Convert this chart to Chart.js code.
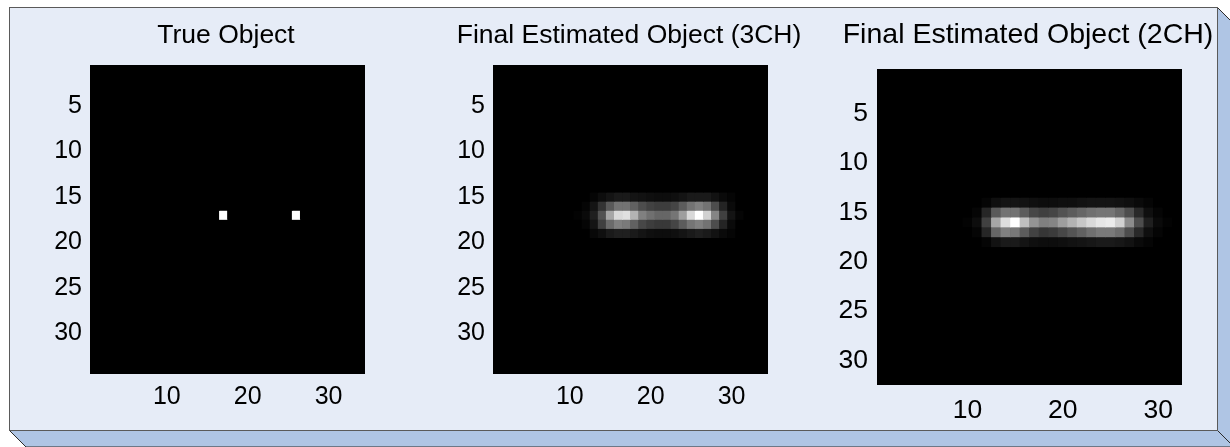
<!DOCTYPE html>
<html><head><meta charset="utf-8">
<script src="https://cdn.jsdelivr.net/npm/chart.js@4.4.1/dist/chart.umd.min.js"></script>
<style>
html,body{margin:0;padding:0;background:#fff;}
#wrap{position:relative;width:1230px;height:447px;overflow:hidden;}
#bg{position:absolute;left:0;top:0;}
canvas{position:absolute;top:0;}
</style></head><body>
<div id="wrap">
<svg id="bg" width="1230" height="447">
<polygon points="9.5,430.5 1217.5,430.5 1234,447 26,447" fill="#afc5e4" stroke="#2b2b2b" stroke-width="1"/>
<polygon points="1217.5,7.5 1234,24 1234,447 1217.5,430.5" fill="#afc5e4" stroke="#2b2b2b" stroke-width="1"/>
<rect x="9.5" y="7.5" width="1208" height="423" fill="#e6ecf7" stroke="#5a5a5a" stroke-width="1"/>
</svg>
<canvas id="ch1" width="432" height="447" style="left:10px"></canvas>
<canvas id="ch2" width="400" height="447" style="left:429px"></canvas>
<canvas id="ch3" width="400" height="447" style="left:828px"></canvas>
</div>
<script>
// ---- tick labels & titles ----
const xTickLabels = [10, 20, 30];
const yTickLabels = [5, 10, 15, 20, 25, 30];
const titles = ['True Object', 'Final Estimated Object (3CH)', 'Final Estimated Object (2CH)'];

// ---- image sizes (rows = columns) ----
const sizeTrue = 34, size3ch = 34, size2ch = 32;

// ---- True object: non-zero row 17 ----
const true_r17 = [0,0,0,0,0,0,0,0,0,0,0,0,0,0,0,0,1,0,0,0,0,0,0,0,0,1,0,0,0,0,0,0,0,0];

// ---- Final estimate (3CH): non-zero rows 15..19 (34 columns) ----
const est3_r15 = [0,0,0,0,0,0,0,0,0,0,0,0,.02,.05,.08,.10,.10,.08,.07,.06,.05,.05,.06,.08,.10,.10,.10,.07,.04,.02,0,0,0,0];
const est3_r16 = [0,0,0,0,0,0,0,0,0,0,0,.02,.08,.20,.35,.45,.45,.38,.30,.26,.24,.24,.27,.36,.45,.50,.45,.30,.14,.04,0,0,0,0];
const est3_r17 = [0,0,0,0,0,0,0,0,0,0,.01,.04,.12,.32,.65,.85,.88,.70,.50,.44,.40,.40,.46,.62,.85,1.0,.82,.52,.25,.08,.02,0,0,0];
const est3_r18 = [0,0,0,0,0,0,0,0,0,0,0,.02,.08,.25,.42,.50,.48,.38,.28,.24,.22,.22,.27,.36,.46,.50,.45,.30,.14,.04,0,0,0,0];
const est3_r19 = [0,0,0,0,0,0,0,0,0,0,0,0,.03,.06,.10,.12,.12,.10,.08,.06,.05,.05,.06,.08,.10,.12,.10,.07,.04,.02,0,0,0,0];

// ---- Final estimate (2CH): non-zero rows 14..18 (32 columns) ----
const est2_r14 = [0,0,0,0,0,0,0,0,0,0,0,.02,.06,.08,.08,.07,.06,.05,.05,.06,.06,.07,.08,.08,.08,.07,.06,.04,.02,0,0,0];
const est2_r15 = [0,0,0,0,0,0,0,0,0,0,.02,.15,.35,.45,.45,.36,.28,.25,.27,.32,.36,.40,.44,.46,.46,.40,.30,.16,.06,.02,0,0];
const est2_r16 = [0,0,0,0,0,0,0,0,0,.01,.05,.25,.65,.87,1.0,.75,.58,.50,.52,.62,.70,.78,.85,.90,.92,.82,.55,.30,.12,.04,.01,0];
const est2_r17 = [0,0,0,0,0,0,0,0,0,0,.02,.15,.40,.50,.47,.36,.26,.21,.23,.28,.33,.38,.44,.48,.48,.43,.30,.16,.06,.02,0,0];
const est2_r18 = [0,0,0,0,0,0,0,0,0,0,0,.02,.07,.10,.10,.08,.06,.05,.05,.06,.07,.08,.09,.10,.10,.09,.07,.04,.02,0,0,0];

function buildImage(size, band) {
  const img = [];
  for (let r = 1; r <= size; r++) img.push(band[r] || new Array(size).fill(0));
  return img;
}
const imgTrue = buildImage(sizeTrue, {17: true_r17});
const img3ch = buildImage(size3ch, {15: est3_r15, 16: est3_r16, 17: est3_r17, 18: est3_r18, 19: est3_r19});
const img2ch = buildImage(size2ch, {14: est2_r14, 15: est2_r15, 16: est2_r16, 17: est2_r17, 18: est2_r18});

function gray(v) { const g = Math.round(Math.max(0, Math.min(1, v)) * 255); return 'rgb(' + g + ',' + g + ',' + g + ')'; }

const blackArea = {
  id: 'blackArea',
  beforeDatasetsDraw(chart) {
    const a = chart.chartArea, ctx = chart.ctx;
    ctx.save(); ctx.fillStyle = '#000'; ctx.fillRect(a.left, a.top, a.right - a.left, a.bottom - a.top); ctx.restore();
  }
};

const FONT = '"Liberation Sans", Arial, sans-serif';

function makeChart(id, title, img, geo) {
  const size = img.length;
  const labels = Array.from({length: size}, (_, i) => String(i + 1));
  const datasets = img.map((row, i) => {
    const r = i + 1;
    return {
      data: row.map(() => [r - 0.5, r + 0.5]),
      backgroundColor: row.map(gray),
      borderWidth: 0,
      barPercentage: 1,
      categoryPercentage: 1,
      grouped: false
    };
  });
  return new Chart(document.getElementById(id), {
    type: 'bar',
    data: { labels, datasets },
    options: {
      responsive: false,
      animation: false,
      events: [],
      layout: { padding: 0 },
      plugins: {
        legend: { display: false },
        tooltip: { enabled: false },
        title: {
          display: true, text: title, color: '#000', fullSize: true,
          font: { family: FONT, size: geo.titleSize, weight: 'normal', lineHeight: 1.2 },
          padding: { top: geo.titleTop, bottom: geo.titleBottom }
        }
      },
      scales: {
        x: {
          type: 'category', offset: true,
          grid: { display: false, drawTicks: false }, border: { display: false },
          ticks: {
            autoSkip: false, maxRotation: 0, minRotation: 0, color: '#000', padding: geo.xPad,
            font: { family: FONT, size: geo.tickSize },
            callback: function (v) { const lab = this.getLabelForValue(v); return xTickLabels.includes(Number(lab)) ? lab : ''; }
          },
          afterFit(s) { s.height = geo.xHeight; }
        },
        y: {
          type: 'linear', reverse: true, min: 0.5, max: size + 0.5,
          grid: { display: false, drawTicks: false }, border: { display: false },
          ticks: { color: '#000', padding: geo.yPad, font: { family: FONT, size: geo.tickSize } },
          afterBuildTicks(s) { s.ticks = yTickLabels.map(v => ({ value: v })); },
          afterFit(s) { s.width = geo.yWidth; }
        },
        yRight: {
          type: 'linear', position: 'right', min: 0, max: 1,
          grid: { display: false, drawTicks: false }, border: { display: false },
          ticks: { display: false },
          afterFit(s) { s.width = geo.rightWidth; }
        }
      }
    },
    plugins: [blackArea]
  });
}

makeChart('ch1', titles[0], imgTrue, { yWidth: 80, xHeight: 73, rightWidth: 77, titleSize: 26.5, titleTop: 19.3, titleBottom: 13.9, tickSize: 25, xPad: 8, yPad: 8 });
makeChart('ch2', titles[1], img3ch, { yWidth: 64, xHeight: 73, rightWidth: 61, titleSize: 26.5, titleTop: 19.3, titleBottom: 13.9, tickSize: 25, xPad: 8, yPad: 8 });
makeChart('ch3', titles[2], img2ch, { yWidth: 49, xHeight: 62, rightWidth: 46, titleSize: 28.5, titleTop: 18.4, titleBottom: 16.4, tickSize: 26.5, xPad: 9.7, yPad: 9 });
</script>
</body></html>
